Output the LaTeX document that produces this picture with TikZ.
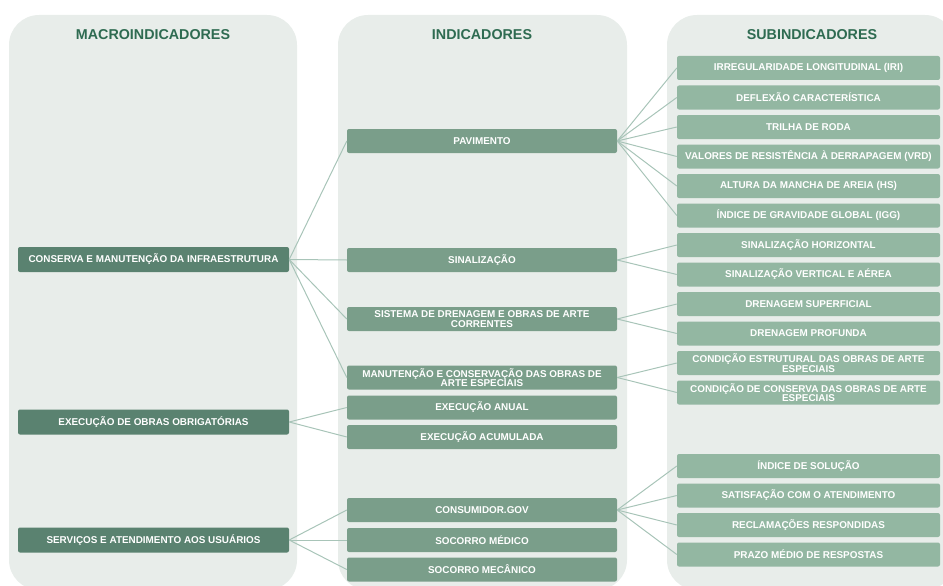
\documentclass[tikz,border=0pt]{standalone}
\usepackage{fontspec}
\setmainfont{Liberation Sans}
\usetikzlibrary{arrows.meta}
\definecolor{panelbg}{HTML}{E8EDEA}
\definecolor{headgreen}{HTML}{2E6B51}
\definecolor{macrogreen}{HTML}{5A8270}
\definecolor{indgreen}{HTML}{7A9E8A}
\definecolor{subgreen}{HTML}{93B7A2}
\definecolor{linkgreen}{HTML}{A8C4B8}
\begin{document}
\begin{tikzpicture}[x=1pt, y=-1pt,
    panel/.style={fill=panelbg, rounded corners=30pt},
    head/.style={text=headgreen, font=\fontsize{14.3}{14}\selectfont\bfseries},
    box/.style={text=white, rounded corners=2pt, inner sep=0pt, align=center, minimum height=24pt, font=\fontsize{9.9}{9.3}\selectfont\bfseries},
    macro/.style={box, fill=macrogreen, minimum width=271pt, minimum height=25pt},
    ind/.style={box, fill=indgreen, minimum width=270pt},
    sub/.style={box, fill=subgreen, minimum width=263pt},
    link/.style={draw=linkgreen, line width=1pt}]
          \useasboundingbox (0,0) rectangle (943,586);

          \fill [panel] (9,15) rectangle (297,590); % Draws a panel
          \fill [panel] (338,15) rectangle (627,590); % Draws a panel
          \fill [panel] (667,15) rectangle (955,590); % Draws a panel

          \node [head] (hmacro) at (153,35) {MACROINDICADORES};
          \node [head] (hind) at (482,35) {INDICADORES};
          \node [head] (hsub) at (812,35) {SUBINDICADORES};

          \node [macro] (cons) at (153.5,259.5) {CONSERVA E MANUTENÇÃO DA INFRAESTRUTURA};
          \node [macro] (exec) at (153.5,422) {EXECUÇÃO DE OBRAS OBRIGATÓRIAS};
          \node [macro] (serv) at (153.5,540) {SERVIÇOS E ATENDIMENTO AOS USUÁRIOS};

          \node [ind] (pav) at (482,141) {PAVIMENTO};
          \node [ind] (sina) at (482,260) {SINALIZAÇÃO};
          \node [ind] (dren) at (482,319) {SISTEMA DE DRENAGEM E OBRAS DE ARTE\\CORRENTES};
          \node [ind] (manu) at (482,377.5) {MANUTENÇÃO E CONSERVAÇÃO DAS OBRAS DE\\ARTE ESPECIAIS};
          \node [ind] (anual) at (482,407.5) {EXECUÇÃO ANUAL};
          \node [ind] (acum) at (482,437) {EXECUÇÃO ACUMULADA};
          \node [ind] (cgov) at (482,510) {CONSUMIDOR.GOV};
          \node [ind] (smed) at (482,540) {SOCORRO MÉDICO};
          \node [ind] (smec) at (482,569.5) {SOCORRO MECÂNICO};

          \node [sub] (iri) at (808.5,68) {IRREGULARIDADE LONGITUDINAL (IRI)};
          \node [sub] (defl) at (808.5,97.5) {DEFLEXÃO CARACTERÍSTICA};
          \node [sub] (tril) at (808.5,127) {TRILHA DE RODA};
          \node [sub] (vrd) at (808.5,156.5) {VALORES DE RESISTÊNCIA À DERRAPAGEM (VRD)};
          \node [sub] (hs) at (808.5,186) {ALTURA DA MANCHA DE AREIA (HS)};
          \node [sub] (igg) at (808.5,215.5) {ÍNDICE DE GRAVIDADE GLOBAL (IGG)};
          \node [sub] (shor) at (808.5,245) {SINALIZAÇÃO HORIZONTAL};
          \node [sub] (svert) at (808.5,274.5) {SINALIZAÇÃO VERTICAL E AÉREA};
          \node [sub] (dsup) at (808.5,304) {DRENAGEM SUPERFICIAL};
          \node [sub] (dprof) at (808.5,333.5) {DRENAGEM PROFUNDA};
          \node [sub] (cest) at (808.5,363) {CONDIÇÃO ESTRUTURAL DAS OBRAS DE ARTE\\ESPECIAIS};
          \node [sub] (ccons) at (808.5,392.5) {CONDIÇÃO DE CONSERVA DAS OBRAS DE ARTE\\ESPECIAIS};
          \node [sub] (isol) at (808.5,466) {ÍNDICE DE SOLUÇÃO};
          \node [sub] (satis) at (808.5,495.5) {SATISFAÇÃO COM O ATENDIMENTO};
          \node [sub] (recl) at (808.5,525) {RECLAMAÇÕES RESPONDIDAS};
          \node [sub] (prazo) at (808.5,554.5) {PRAZO MÉDIO DE RESPOSTAS};

          \draw [link] (cons.east) -- (pav.west);
          \draw [link] (cons.east) -- (sina.west);
          \draw [link] (cons.east) -- (dren.west);
          \draw [link] (cons.east) -- (manu.west);

          \draw [link] (exec.east) -- (anual.west);
          \draw [link] (exec.east) -- (acum.west);

          \draw [link] (serv.east) -- (cgov.west);
          \draw [link] (serv.east) -- (smed.west);
          \draw [link] (serv.east) -- (smec.west);

          \draw [link] (pav.east) -- (iri.west);
          \draw [link] (pav.east) -- (defl.west);
          \draw [link] (pav.east) -- (tril.west);
          \draw [link] (pav.east) -- (vrd.west);
          \draw [link] (pav.east) -- (hs.west);
          \draw [link] (pav.east) -- (igg.west);

          \draw [link] (sina.east) -- (shor.west);
          \draw [link] (sina.east) -- (svert.west);

          \draw [link] (dren.east) -- (dsup.west);
          \draw [link] (dren.east) -- (dprof.west);

          \draw [link] (manu.east) -- (cest.west);
          \draw [link] (manu.east) -- (ccons.west);

          \draw [link] (cgov.east) -- (isol.west);
          \draw [link] (cgov.east) -- (satis.west);
          \draw [link] (cgov.east) -- (recl.west);
          \draw [link] (cgov.east) -- (prazo.west);
        \end{tikzpicture}
\end{document}
